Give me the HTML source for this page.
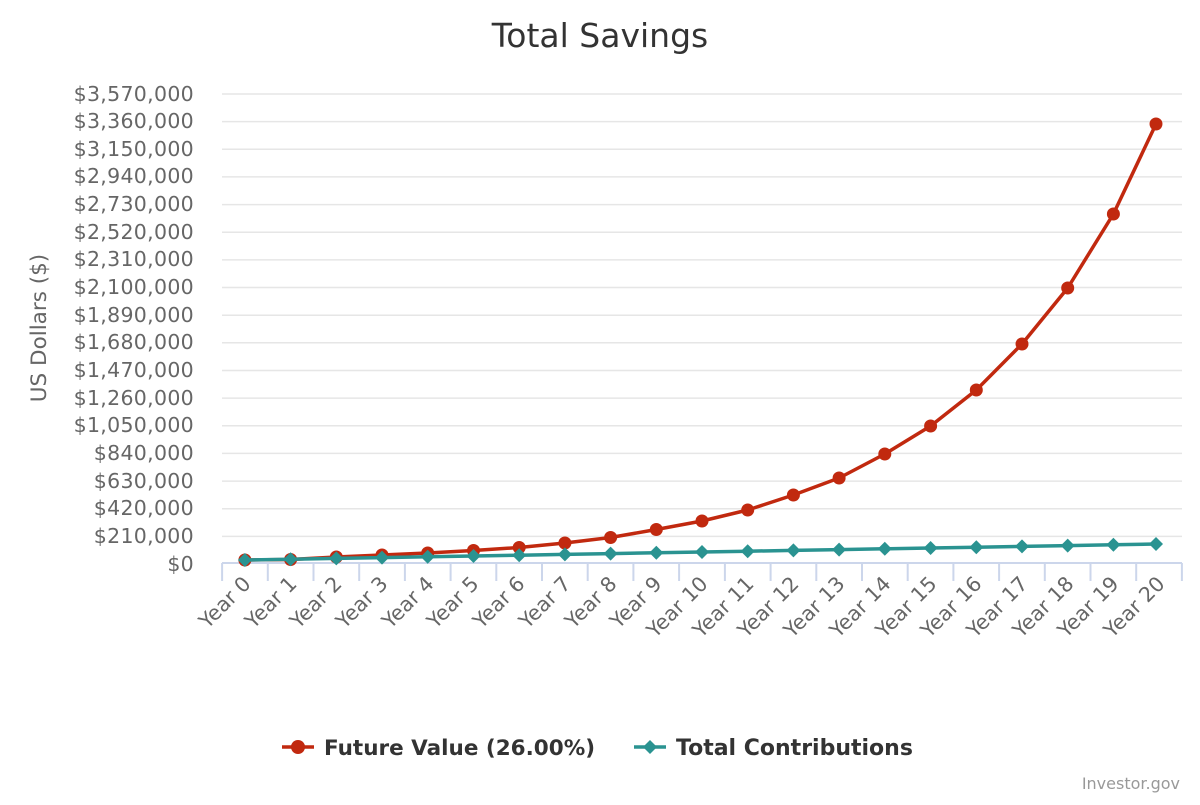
<!DOCTYPE html>
<html><head><meta charset="utf-8"><style>
body{margin:0;background:#fff;}
svg text{font-family:"DejaVu Sans","Liberation Sans",sans-serif;}
</style></head><body>
<svg width="1200" height="800" viewBox="0 0 1200 800" xmlns="http://www.w3.org/2000/svg">
<text x="600" y="47" text-anchor="middle" font-size="33" fill="#333">Total Savings</text>
<g stroke="#e6e6e6" stroke-width="1.5">
<line x1="222" x2="1182" y1="536.4" y2="536.4"/><line x1="222" x2="1182" y1="508.7" y2="508.7"/><line x1="222" x2="1182" y1="481.1" y2="481.1"/><line x1="222" x2="1182" y1="453.4" y2="453.4"/><line x1="222" x2="1182" y1="425.8" y2="425.8"/><line x1="222" x2="1182" y1="398.1" y2="398.1"/><line x1="222" x2="1182" y1="370.5" y2="370.5"/><line x1="222" x2="1182" y1="342.8" y2="342.8"/><line x1="222" x2="1182" y1="315.2" y2="315.2"/><line x1="222" x2="1182" y1="287.5" y2="287.5"/><line x1="222" x2="1182" y1="259.9" y2="259.9"/><line x1="222" x2="1182" y1="232.2" y2="232.2"/><line x1="222" x2="1182" y1="204.6" y2="204.6"/><line x1="222" x2="1182" y1="176.9" y2="176.9"/><line x1="222" x2="1182" y1="149.2" y2="149.2"/><line x1="222" x2="1182" y1="121.6" y2="121.6"/><line x1="222" x2="1182" y1="94" y2="94"/>
</g>
<g font-size="20.5" fill="#666" text-anchor="end" letter-spacing="0.3">
<text x="194" y="571">$0</text><text x="194" y="543">$210,000</text><text x="194" y="515">$420,000</text><text x="194" y="488">$630,000</text><text x="194" y="460">$840,000</text><text x="194" y="432">$1,050,000</text><text x="194" y="405">$1,260,000</text><text x="194" y="377">$1,470,000</text><text x="194" y="349">$1,680,000</text><text x="194" y="322">$1,890,000</text><text x="194" y="294">$2,100,000</text><text x="194" y="266">$2,310,000</text><text x="194" y="239">$2,520,000</text><text x="194" y="211">$2,730,000</text><text x="194" y="183">$2,940,000</text><text x="194" y="156">$3,150,000</text><text x="194" y="128">$3,360,000</text><text x="194" y="101">$3,570,000</text>
</g>
<text transform="translate(46,328) rotate(-90)" text-anchor="middle" font-size="21.5" fill="#666">US Dollars ($)</text>
<g stroke="#ccd6eb" stroke-width="2">
<line x1="222" x2="1182" y1="563" y2="563"/>
<line x1="222.1" x2="222.1" y1="563" y2="581"/><line x1="267.8" x2="267.8" y1="563" y2="581"/><line x1="313.5" x2="313.5" y1="563" y2="581"/><line x1="359.2" x2="359.2" y1="563" y2="581"/><line x1="404.9" x2="404.9" y1="563" y2="581"/><line x1="450.6" x2="450.6" y1="563" y2="581"/><line x1="496.3" x2="496.3" y1="563" y2="581"/><line x1="542" x2="542" y1="563" y2="581"/><line x1="587.7" x2="587.7" y1="563" y2="581"/><line x1="633.4" x2="633.4" y1="563" y2="581"/><line x1="679.1" x2="679.1" y1="563" y2="581"/><line x1="724.9" x2="724.9" y1="563" y2="581"/><line x1="770.6" x2="770.6" y1="563" y2="581"/><line x1="816.3" x2="816.3" y1="563" y2="581"/><line x1="862" x2="862" y1="563" y2="581"/><line x1="907.7" x2="907.7" y1="563" y2="581"/><line x1="953.4" x2="953.4" y1="563" y2="581"/><line x1="999.1" x2="999.1" y1="563" y2="581"/><line x1="1044.8" x2="1044.8" y1="563" y2="581"/><line x1="1090.5" x2="1090.5" y1="563" y2="581"/><line x1="1136.2" x2="1136.2" y1="563" y2="581"/><line x1="1181.9" x2="1181.9" y1="563" y2="581"/>
</g>
<g font-size="20.5" fill="#666" text-anchor="end">
<text transform="translate(252,585) rotate(-45)">Year 0</text><text transform="translate(298,585) rotate(-45)">Year 1</text><text transform="translate(343,585) rotate(-45)">Year 2</text><text transform="translate(389,585) rotate(-45)">Year 3</text><text transform="translate(435,585) rotate(-45)">Year 4</text><text transform="translate(480,585) rotate(-45)">Year 5</text><text transform="translate(526,585) rotate(-45)">Year 6</text><text transform="translate(572,585) rotate(-45)">Year 7</text><text transform="translate(618,585) rotate(-45)">Year 8</text><text transform="translate(663,585) rotate(-45)">Year 9</text><text transform="translate(709,585) rotate(-45)">Year 10</text><text transform="translate(755,585) rotate(-45)">Year 11</text><text transform="translate(800,585) rotate(-45)">Year 12</text><text transform="translate(846,585) rotate(-45)">Year 13</text><text transform="translate(892,585) rotate(-45)">Year 14</text><text transform="translate(938,585) rotate(-45)">Year 15</text><text transform="translate(983,585) rotate(-45)">Year 16</text><text transform="translate(1029,585) rotate(-45)">Year 17</text><text transform="translate(1075,585) rotate(-45)">Year 18</text><text transform="translate(1120,585) rotate(-45)">Year 19</text><text transform="translate(1166,585) rotate(-45)">Year 20</text>
</g>
<polyline fill="none" stroke="#c1290f" stroke-width="3.5" stroke-linejoin="round" points="244.9,560 290.6,559.5 336.3,557 382,555 427.7,553 473.5,550.5 519.2,547.5 564.9,543 610.6,537.5 656.3,529.5 702,521 747.7,510 793.4,495 839.1,478 884.8,454 930.6,426 976.3,390 1022,344 1067.7,288 1113.4,214 1156,124"/>
<g fill="#c1290f">
<circle cx="244.9" cy="560" r="6.5"/><circle cx="290.6" cy="559.5" r="6.5"/><circle cx="336.3" cy="557" r="6.5"/><circle cx="382" cy="555" r="6.5"/><circle cx="427.7" cy="553" r="6.5"/><circle cx="473.5" cy="550.5" r="6.5"/><circle cx="519.2" cy="547.5" r="6.5"/><circle cx="564.9" cy="543" r="6.5"/><circle cx="610.6" cy="537.5" r="6.5"/><circle cx="656.3" cy="529.5" r="6.5"/><circle cx="702" cy="521" r="6.5"/><circle cx="747.7" cy="510" r="6.5"/><circle cx="793.4" cy="495" r="6.5"/><circle cx="839.1" cy="478" r="6.5"/><circle cx="884.8" cy="454" r="6.5"/><circle cx="930.6" cy="426" r="6.5"/><circle cx="976.3" cy="390" r="6.5"/><circle cx="1022" cy="344" r="6.5"/><circle cx="1067.7" cy="288" r="6.5"/><circle cx="1113.4" cy="214" r="6.5"/><circle cx="1156" cy="124" r="6.5"/>
</g>
<polyline fill="none" stroke="#2a9391" stroke-width="3.5" points="244.9,560 290.6,559.2 336.3,558.4 382,557.6 427.7,556.8 473.5,556 519.2,555.2 564.9,554.4 610.6,553.6 656.3,552.8 702,552 747.7,551.2 793.4,550.4 839.1,549.6 884.8,548.8 930.6,548 976.3,547.2 1022,546.4 1067.7,545.6 1113.4,544.8 1156,544"/>
<g fill="#2a9391">
<path d="M244.9,553l7,7-7,7-7-7z"/><path d="M290.6,552.2l7,7-7,7-7-7z"/><path d="M336.3,551.4l7,7-7,7-7-7z"/><path d="M382,550.6l7,7-7,7-7-7z"/><path d="M427.7,549.8l7,7-7,7-7-7z"/><path d="M473.5,549l7,7-7,7-7-7z"/><path d="M519.2,548.2l7,7-7,7-7-7z"/><path d="M564.9,547.4l7,7-7,7-7-7z"/><path d="M610.6,546.6l7,7-7,7-7-7z"/><path d="M656.3,545.8l7,7-7,7-7-7z"/><path d="M702,545l7,7-7,7-7-7z"/><path d="M747.7,544.2l7,7-7,7-7-7z"/><path d="M793.4,543.4l7,7-7,7-7-7z"/><path d="M839.1,542.6l7,7-7,7-7-7z"/><path d="M884.8,541.8l7,7-7,7-7-7z"/><path d="M930.6,541l7,7-7,7-7-7z"/><path d="M976.3,540.2l7,7-7,7-7-7z"/><path d="M1022,539.4l7,7-7,7-7-7z"/><path d="M1067.7,538.6l7,7-7,7-7-7z"/><path d="M1113.4,537.8l7,7-7,7-7-7z"/><path d="M1156,537l7,7-7,7-7-7z"/>
</g>
<line x1="282" x2="314" y1="747" y2="747" stroke="#c1290f" stroke-width="3.5"/>
<circle cx="298" cy="747" r="7" fill="#c1290f"/>
<text x="324" y="755" font-size="21.5" font-weight="bold" fill="#333">Future Value (26.00%)</text>
<line x1="634" x2="666" y1="747" y2="747" stroke="#2a9391" stroke-width="3.5"/>
<path d="M650,740l7,7-7,7-7-7z" fill="#2a9391"/>
<text x="676" y="755" font-size="22" font-weight="bold" fill="#333">Total Contributions</text>
<text x="1180" y="789" text-anchor="end" font-size="16" fill="#999">Investor.gov</text>
</svg>
</body></html>
